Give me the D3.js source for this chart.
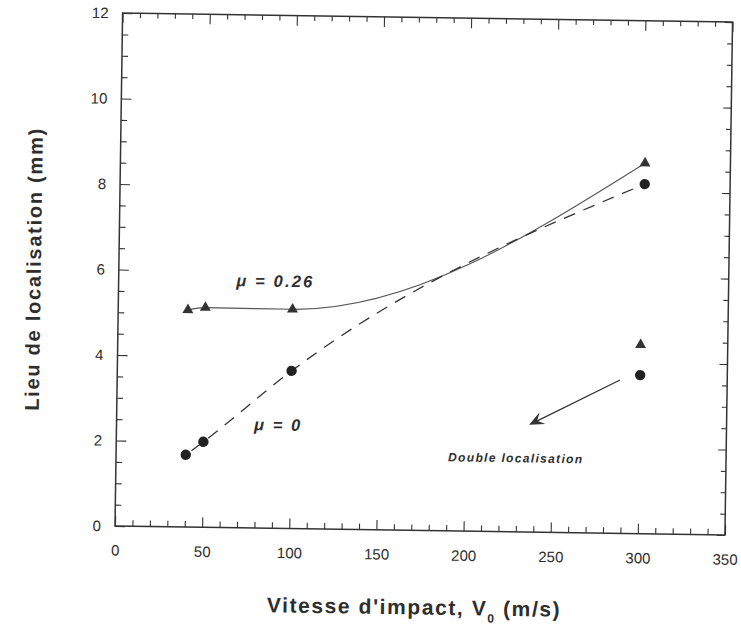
<!DOCTYPE html>
<html>
<head>
<meta charset="utf-8">
<script src="https://cdn.jsdelivr.net/npm/d3@7"></script>
<style>
  html, body { margin: 0; padding: 0; background: #fff; }
  svg { display: block; }
  text { font-family: "Liberation Sans", Arial, Helvetica, sans-serif; fill: #2e2e2e; }
</style>
</head>
<body>
<svg id="chart" width="741" height="629"></svg>
<script>
// Impact velocity (m/s) of the test points
const velocities = [40, 50, 100, 301];
// Localisation site (mm) for each friction coefficient
const siteMu026 = [5.08, 5.14, 5.13, 8.67];
const siteMu0 = [1.69, 2.0, 3.69, 8.18];
// Second localisation band observed at the highest velocity
const doubleVelocity = [300];
const doubleMu026 = [4.42];
const doubleMu0 = [3.71];

const xMajorTicks = [0, 50, 100, 150, 200, 250, 300, 350];
const yMajorTicks = [0, 2, 4, 6, 8, 10, 12];

const ink = "#333";
const svg = d3.select("#chart");

const x = d3.scaleLinear().domain([0, 350]).range([115, 725]);
const y = d3.scaleLinear().domain([0, 12]).range([526, 13]);

// The whole figure sits slightly tilted on the page
const g = svg.append("g").attr("transform", "rotate(0.85,115,526)");

const xMinor = d3.range(0, 351, 10).filter(v => v % 50 !== 0);
const yMinor = d3.range(0, 12.01, 0.5).filter(v => v % 2 !== 0);

function styleAxis(sel) {
  sel.select(".domain").remove();
  sel.selectAll(".tick line").attr("stroke", ink).attr("stroke-width", 1.1);
  sel.selectAll(".tick text")
    .style("font-size", "15px")
    .attr("fill", "#333");
}

// bottom axis: labelled majors + minors, ticks pointing inward
g.append("g").attr("transform", `translate(0,${y(0)})`)
  .call(d3.axisBottom(x).tickValues(xMajorTicks).tickSize(-10).tickPadding(19))
  .call(styleAxis);
g.append("g").attr("transform", `translate(0,${y(0)})`)
  .call(d3.axisBottom(x).tickValues(xMinor).tickSize(-6).tickFormat(""))
  .call(styleAxis);
// top axis
g.append("g").attr("transform", `translate(0,${y(12)})`)
  .call(d3.axisTop(x).tickValues(xMajorTicks).tickSize(-10).tickFormat(""))
  .call(styleAxis);
g.append("g").attr("transform", `translate(0,${y(12)})`)
  .call(d3.axisTop(x).tickValues(xMinor).tickSize(-5).tickFormat(""))
  .call(styleAxis);
// left axis
g.append("g").attr("transform", `translate(${x(0)},0)`)
  .call(d3.axisLeft(y).tickValues(yMajorTicks).tickSize(-10).tickPadding(14))
  .call(styleAxis);
g.append("g").attr("transform", `translate(${x(0)},0)`)
  .call(d3.axisLeft(y).tickValues(yMinor).tickSize(-6).tickFormat(""))
  .call(styleAxis);
// right axis
g.append("g").attr("transform", `translate(${x(350)},0)`)
  .call(d3.axisRight(y).tickValues(yMajorTicks).tickSize(-8).tickFormat(""))
  .call(styleAxis);
g.append("g").attr("transform", `translate(${x(350)},0)`)
  .call(d3.axisRight(y).tickValues(yMinor).tickSize(-5).tickFormat(""))
  .call(styleAxis);

// frame
g.append("rect")
  .attr("x", x(0)).attr("y", y(12))
  .attr("width", x(350) - x(0)).attr("height", y(0) - y(12))
  .attr("fill", "none").attr("stroke", ink).attr("stroke-width", 1.5);

// fitted curves
const ptsMu026 = velocities.map((v, i) => [v, siteMu026[i]]);
const ptsMu0 = velocities.map((v, i) => [v, siteMu0[i]]);
const smooth = d3.line().x(d => x(d[0])).y(d => y(d[1])).curve(d3.curveMonotoneX);

g.append("path")
  .attr("d", smooth(ptsMu026))
  .attr("fill", "none").attr("stroke", "#555").attr("stroke-width", 1.1);

g.append("path")
  .attr("d", smooth(ptsMu0))
  .attr("fill", "none").attr("stroke", ink).attr("stroke-width", 1.3)
  .attr("stroke-dasharray", "12,9").attr("stroke-dashoffset", 14);

// markers
const tri = d3.symbol().type(d3.symbolTriangle).size(52);
g.selectAll(".triMain").data(ptsMu026).join("path")
  .attr("transform", d => `translate(${x(d[0])},${y(d[1])})`)
  .attr("d", tri).attr("fill", ink);
g.selectAll(".dotMain").data(ptsMu0).join("circle")
  .attr("cx", d => x(d[0])).attr("cy", d => y(d[1])).attr("r", 5.2).attr("fill", "#222");

g.selectAll(".triDouble").data(doubleVelocity.map((v, i) => [v, doubleMu026[i]])).join("path")
  .attr("transform", d => `translate(${x(d[0])},${y(d[1])})`)
  .attr("d", tri).attr("fill", ink);
g.selectAll(".dotDouble").data(doubleVelocity.map((v, i) => [v, doubleMu0[i]])).join("circle")
  .attr("cx", d => x(d[0])).attr("cy", d => y(d[1])).attr("r", 5.2).attr("fill", "#222");

// series labels
g.append("text").attr("x", x(67.5)).attr("y", y(5.65))
  .attr("textLength", 76).attr("lengthAdjust", "spacing")
  .style("font-size", "16.5px").style("font-weight", "bold").style("font-style", "italic")
  .text("μ = 0.26");
g.append("text").attr("x", x(79)).attr("y", y(2.29))
  .attr("textLength", 46).attr("lengthAdjust", "spacing")
  .style("font-size", "16.5px").style("font-weight", "bold").style("font-style", "italic")
  .text("μ = 0");

// double localisation annotation
const arrowStart = [288.5, 3.59], arrowEnd = [236.7, 2.51];
const ax0 = x(arrowStart[0]), ay0 = y(arrowStart[1]);
const ax1 = x(arrowEnd[0]), ay1 = y(arrowEnd[1]);
const ang = Math.atan2(ay1 - ay0, ax1 - ax0);
const ux = Math.cos(ang), uy = Math.sin(ang);
const px = -uy, py = ux;
g.append("line")
  .attr("x1", ax0).attr("y1", ay0)
  .attr("x2", ax1 - 8 * ux).attr("y2", ay1 - 8 * uy)
  .attr("stroke", ink).attr("stroke-width", 1.3);
const headLen = 15, headW = 6.5, notch = 9;
g.append("path")
  .attr("d", `M${ax1},${ay1}` +
    `L${ax1 - headLen * ux + headW * px},${ay1 - headLen * uy + headW * py}` +
    `L${ax1 - notch * ux},${ay1 - notch * uy}` +
    `L${ax1 - headLen * ux - headW * px},${ay1 - headLen * uy - headW * py}Z`)
  .attr("fill", ink);

g.append("text").attr("x", x(229) - 67).attr("y", y(1.63))
  .attr("textLength", 134).attr("lengthAdjust", "spacing")
  .style("font-size", "12px").style("font-weight", "bold").style("font-style", "italic")
  .text("Double localisation");

// axis titles
const xTitle = g.append("text")
  .attr("x", 268).attr("y", 610)
  .style("font-size", "21px").style("font-weight", "bold")
  .style("letter-spacing", "1.6px")
  .style("white-space", "pre");
xTitle.append("tspan").text("Vitesse d'impact, V");
xTitle.append("tspan").attr("dy", 7).style("font-size", "12px").text("0");
xTitle.append("tspan").attr("dy", -7).text(" (m/s)");

g.append("text")
  .attr("transform", `translate(37,412) rotate(-90)`)
  .attr("textLength", 282).attr("lengthAdjust", "spacing")
  .style("font-size", "20px").style("font-weight", "bold")
  .text("Lieu de localisation (mm)");
</script>
</body>
</html>
